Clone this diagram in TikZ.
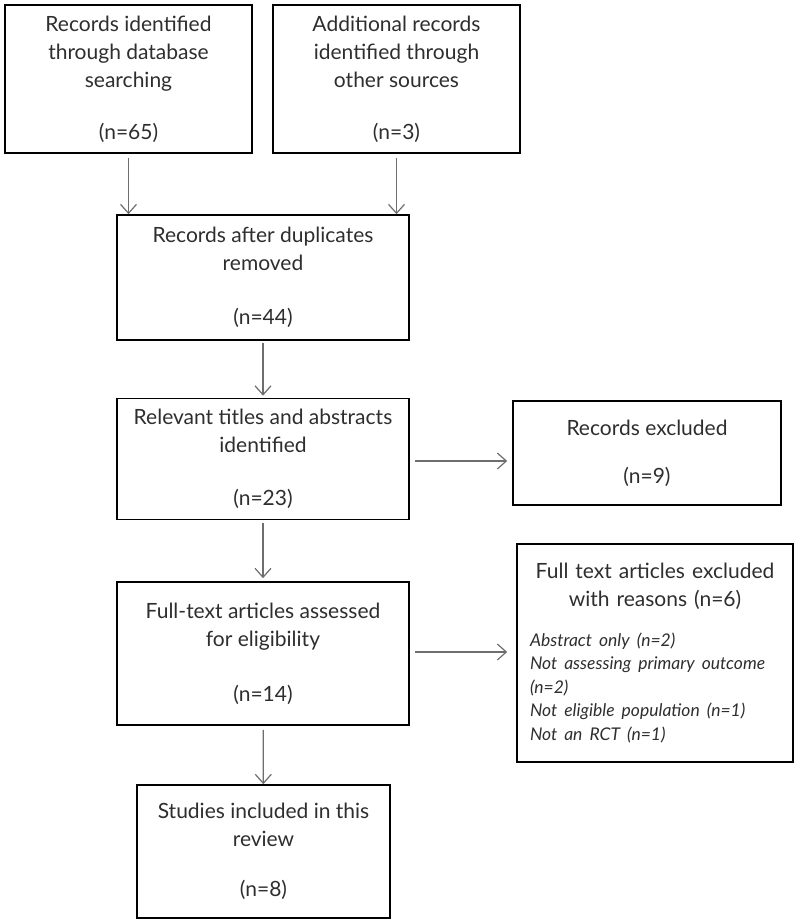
\documentclass[tikz,border=0pt]{standalone}
\usepackage{fontspec}
\setmainfont{Lato}
\usepackage{xcolor}
\usetikzlibrary{arrows.meta, positioning}
\definecolor{txtgray}{HTML}{2E2E2E}
\definecolor{arrgray}{HTML}{6E6E6E}

\begin{document}
\begin{tikzpicture}[x=1pt, y=-1pt,
  box/.style={draw=black, line width=1.6pt, align=center, text=txtgray,
    font=\fontsize{21}{28}\selectfont, inner sep=0pt},
  flow/.style={draw=arrgray, line width=1.2pt,
    -{Straight Barb[length=9pt, width=16pt]}}]
  \useasboundingbox (0,0) rectangle (800,924);
  % identification
  \node[box, minimum width=247pt, minimum height=148pt] (search) at (128.5,79)
    {Records identified\\through database\\searching\\[24pt](n=65)};
  \node[box, minimum width=247pt, minimum height=148pt] (other) at (396.5,79)
    {Additional records\\identified through\\other sources\\[24pt](n=3)};
  % screening
  \node[box, minimum width=292pt, minimum height=125pt] (dupl) at (263,277.5)
    {Records after duplicates\\removed\\[26pt](n=44)};
  \node[box, minimum width=292pt, minimum height=121pt] (titles) at (263,459)
    {Relevant titles and abstracts\\identified\\[25pt](n=23)};
  \node[box, minimum width=268pt, minimum height=104pt] (recex) at (647,453)
    {Records excluded\\[20pt](n=9)};
  % eligibility
  \node[box, minimum width=292pt, minimum height=143pt] (full) at (263,653.5)
    {Full-text articles assessed\\for eligibility\\[27pt](n=14)};
  \node[box, align=left, text width=250pt, minimum width=276pt,
    minimum height=218pt] (fullex) at (655,653)
    {{\centering Full text articles excluded\\with reasons (n=6)\par}\vspace{16pt}
     {\fontsize{17.5}{23.5}\selectfont\itshape Abstract only (n=2)\\
      Not assessing primary outcome\\(n=2)\\Not eligible population (n=1)\\
      Not an RCT (n=1)\par}};
  % included
  \node[box, minimum width=253pt, minimum height=133pt] (incl) at (263.5,851.5)
    {Studies included in this\\review\\[22pt](n=8)};

  \draw[flow, shorten <=4pt] (search.south) -- (search.south |- dupl.north);
  \draw[flow, shorten <=4pt] (other.south) -- (other.south |- dupl.north);
  \draw[flow, shorten <=2pt, shorten >=2pt] (dupl) -- (titles);
  \draw[flow, shorten <=3pt, shorten >=3pt] (titles) -- (full);
  \draw[flow, shorten <=4pt] (full) -- (incl);
  \draw[flow, shorten <=5pt, shorten >=5pt] (titles.east |- 0,461) -- (recex.west |- 0,461);
  \draw[flow, shorten <=5pt, shorten >=9pt] (full.east |- 0,652) -- (fullex.west |- 0,652);
\end{tikzpicture}
\end{document}
